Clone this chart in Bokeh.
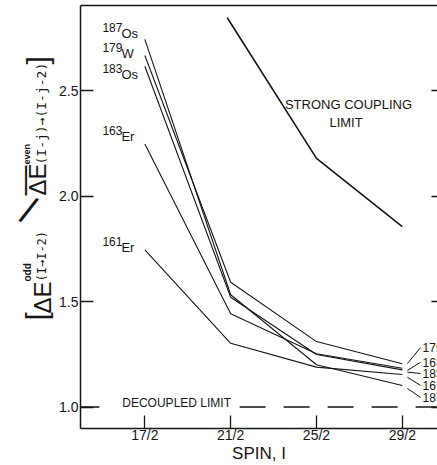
from math import pi
from bokeh.plotting import figure
from bokeh.layouts import row
from bokeh.models import Range1d, LinearAxis, FixedTicker, ColumnDataSource
from bokeh.core.properties import value
from bokeh.embed import file_html
from bokeh.resources import INLINE

# ---------------- data ----------------
spin = [8.5, 10.5, 12.5, 14.5]
spin_tick_labels = ["17/2", "21/2", "25/2", "29/2"]
ratio_ticks = [1.0, 1.5, 2.0, 2.5]
ratio_tick_labels = ["1.0", "1.5", "2.0", "2.5"]

os187 = [2.742, 1.532, 1.200, 1.102]
w179 = [2.666, 1.591, 1.310, 1.205]
os183 = [2.615, 1.520, 1.249, 1.176]
er163 = [2.247, 1.442, 1.252, 1.184]
er161 = [1.745, 1.302, 1.189, 1.154]

strong_spin = [10.42, 12.5, 14.5]
strong_ratio = [2.845, 2.178, 1.855]
decoupled_ratio = 1.0

mass_numbers = ["187", "179", "183", "163", "161"]
elements = ["Os", "W", "Os", "Er", "Er"]
left_label_ratio = [2.799, 2.704, 2.604, 2.310, 1.784]

right_mass = ["179", "163", "183", "161", "187"]
right_label_ratio = [1.282, 1.212, 1.159, 1.102, 1.045]
leader_start_ratio = [1.206, 1.173, 1.165, 1.141, 1.088]


# picture-pixel -> data helpers (for annotation placement only)
def X(px):
    return 8.5 + (px - 142.7) / 43.15


def Y(py):
    return 1.0 + (406.5 - py) / 211.0


FONT = "Liberation Sans"
INK = "#161616"
H = 465
LW = 56  # width of the strip that carries the y-axis title

yr = Range1d(Y(428), Y(5))
p = figure(width=437 - LW, height=H,
           x_range=Range1d(7.0, X(437)), y_range=yr,
           output_backend="svg", toolbar_location=None,
           min_border_left=78 - LW, min_border_right=0, min_border_top=5,
           min_border_bottom=H - 428)
p.outline_line_color = None
p.xgrid.visible = False
p.ygrid.visible = False
p.background_fill_color = "white"
p.border_fill_color = "white"

# bottom axis
xa = p.xaxis[0]
xa.ticker = FixedTicker(ticks=spin)
xa.major_label_overrides = dict(zip(spin, spin_tick_labels))
xa.major_tick_in = 13
xa.major_tick_out = 0
xa.minor_tick_in = 0
xa.minor_tick_out = 0
xa.axis_line_width = 1.5
xa.major_tick_line_width = 1.3
xa.axis_line_color = INK
xa.major_tick_line_color = INK
xa.major_label_text_font = FONT
xa.major_label_text_font_size = "14px"
xa.major_label_text_color = INK
xa.major_label_standoff = -2
xa.axis_label = "SPIN, I"
xa.axis_label_text_font = FONT
xa.axis_label_text_font_size = "17px"
xa.axis_label_text_font_style = "normal"
xa.axis_label_text_color = INK
xa.axis_label_standoff = -2

# left axis
ya = p.yaxis[0]
ya.ticker = FixedTicker(ticks=ratio_ticks)
ya.major_label_overrides = dict(zip(ratio_ticks, ratio_tick_labels))
ya.major_tick_in = 13
ya.major_tick_out = 0
ya.minor_tick_in = 0
ya.minor_tick_out = 0
ya.axis_line_width = 1.5
ya.major_tick_line_width = 1.3
ya.axis_line_color = INK
ya.major_tick_line_color = INK
ya.major_label_text_font = FONT
ya.major_label_text_font_size = "14px"
ya.major_label_text_color = INK
ya.major_label_standoff = 2

# top border line
top = LinearAxis(ticker=FixedTicker(ticks=[]), axis_line_width=1.5, axis_line_color=INK,
                 major_tick_in=0, major_tick_out=0, minor_tick_in=0, minor_tick_out=0,
                 major_label_text_font_size="1px", major_label_text_color=None,
                 major_label_standoff=0, axis_label_standoff=0)
p.add_layout(top, "above")

# right ticks (spine lies outside the picture)
right = LinearAxis(ticker=FixedTicker(ticks=ratio_ticks), axis_line_color=None,
                   major_tick_in=6, major_tick_out=0, minor_tick_in=0, minor_tick_out=0,
                   major_tick_line_color=INK, major_tick_line_width=1.3,
                   major_label_text_font_size="1px", major_label_text_color=None,
                   major_label_standoff=0, axis_label_standoff=0)
p.add_layout(right, "right")

# curves
for vals in (os187, w179, os183, er163, er161):
    p.line(spin, vals, line_color=INK, line_width=1.1)

p.line(strong_spin, strong_ratio, line_color=INK, line_width=1.6)

# decoupled limit
p.line([7.0, X(97)], [decoupled_ratio] * 2, line_color=INK, line_width=1.3)
p.line([X(238), X(437)], [decoupled_ratio] * 2, line_color=INK, line_width=1.3,
       line_dash="26 18")
p.text(x=[X(120)], y=[Y(402)], text=["DECOUPLED LIMIT"], text_font=value(FONT),
       text_font_size="12px", text_align="left", text_baseline="middle", text_color=INK)

p.text(x=[X(347.5), X(345)], y=[Y(104), Y(121.5)], text=["STRONG COUPLING", "LIMIT"],
       text_font=value(FONT), text_font_size="13px", text_align="center",
       text_baseline="middle", text_color=INK)

# isotope labels (left)
left_src = ColumnDataSource(dict(x=[X(100)] * 5, y=left_label_ratio,
                                 ye=[v - 0.03 for v in left_label_ratio],
                                 m=mass_numbers, e=elements))
p.text(x="x", y="y", text="m", source=left_src, text_font=value(FONT),
       text_font_size="12px", text_baseline="alphabetic", text_align="left", text_color=INK)
p.text(x="x", y="ye", text="e", source=left_src, x_offset=19, text_font=value(FONT),
       text_font_size="13px", text_baseline="alphabetic", text_align="left", text_color=INK)

# isotope labels (right, cut by the picture edge as in the original)
right_src = ColumnDataSource(dict(x=[X(422)] * 5, y=right_label_ratio, m=right_mass,
                                  x0=[X(406.7)] * 5, y0=leader_start_ratio,
                                  x1=[X(420)] * 5))
p.segment(x0="x0", y0="y0", x1="x1", y1="y", source=right_src, line_color=INK, line_width=1.0)
p.text(x="x", y="y", text="m", source=right_src, text_font=value(FONT),
       text_font_size="12px", text_baseline="middle", text_align="left", text_color=INK)

# ---------------- y-axis title strip (frame is aligned with the main frame) ----------------
q = figure(width=LW, height=H, x_range=Range1d(0, LW), y_range=yr,
           output_backend="svg", toolbar_location=None,
           x_axis_location=None, y_axis_location=None,
           min_border_left=0, min_border_right=0, min_border_top=5,
           min_border_bottom=H - 428)
q.outline_line_color = None
q.xgrid.visible = False
q.ygrid.visible = False
q.background_fill_color = "white"
q.border_fill_color = "white"

parts = [
    # text, baseline x, start y (picture pixels), font, size, style
    ("[", 36, 320, FONT, "30px", "normal"),
    ("ΔE", 42, 313, FONT, "24px", "normal"),
    ("odd", 27, 281, FONT, "10px", "bold"),
    ("(I→I-2)", 41, 281, "DejaVu Sans Mono", "12px", "normal"),
    ("—", 23, 195, FONT, "30px", "normal"),
    ("ΔE", 37, 195, FONT, "24px", "normal"),
    ("even", 26, 164, FONT, "9px", "bold"),
    ("(I-j)→(I-j-2)", 41, 164, "DejaVu Sans Mono", "13px", "normal"),
    ("]", 37, 64, FONT, "30px", "normal"),
]
for t, bx, sy, f, fs, st in parts:
    q.text(x=[bx], y=[Y(sy)], text=[t], angle=pi / 2, text_font=value(f),
           text_font_size=fs, text_font_style=value(st), text_align="left",
           text_baseline="alphabetic", text_color=INK)
q.text(x=[28], y=[Y(210)], text=["/"], angle=-0.4, text_font=value(FONT),
       text_font_size="38px", text_align="center", text_baseline="middle", text_color=INK)

layout = row(q, p)
open("out.html", "w").write(file_html(layout, INLINE))
